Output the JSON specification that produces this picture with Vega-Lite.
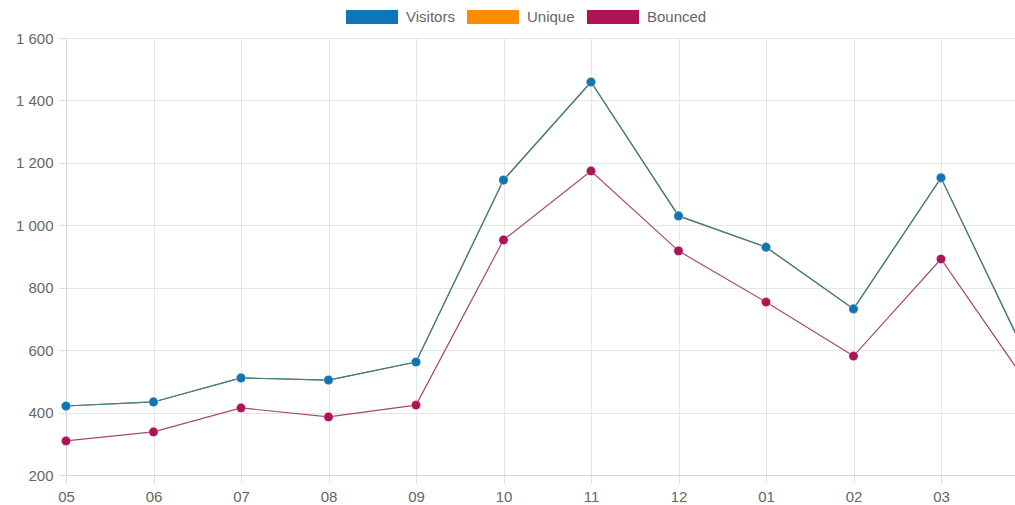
{
  "$schema": "https://vega.github.io/schema/vega-lite/v6.json",
  "autosize": {"type": "none"},
  "padding": {"left": 66, "top": 38, "right": 0, "bottom": 30},
  "width": 949,
  "height": 437,
  "background": "white",
  "data": {"values": [
    {"m": "05", "series": "Visitors", "v": 421}, {"m": "06", "series": "Visitors", "v": 434}, {"m": "07", "series": "Visitors", "v": 511}, {"m": "08", "series": "Visitors", "v": 504}, {"m": "09", "series": "Visitors", "v": 562}, {"m": "10", "series": "Visitors", "v": 1145}, {"m": "11", "series": "Visitors", "v": 1459}, {"m": "12", "series": "Visitors", "v": 1030}, {"m": "01", "series": "Visitors", "v": 930}, {"m": "02", "series": "Visitors", "v": 732}, {"m": "03", "series": "Visitors", "v": 1152}, {"m": "04", "series": "Visitors", "v": 568},
    {"m": "05", "series": "Unique", "v": 421}, {"m": "06", "series": "Unique", "v": 434}, {"m": "07", "series": "Unique", "v": 511}, {"m": "08", "series": "Unique", "v": 504}, {"m": "09", "series": "Unique", "v": 562}, {"m": "10", "series": "Unique", "v": 1145}, {"m": "11", "series": "Unique", "v": 1459}, {"m": "12", "series": "Unique", "v": 1030}, {"m": "01", "series": "Unique", "v": 930}, {"m": "02", "series": "Unique", "v": 732}, {"m": "03", "series": "Unique", "v": 1152}, {"m": "04", "series": "Unique", "v": 568},
    {"m": "05", "series": "Bounced", "v": 309}, {"m": "06", "series": "Bounced", "v": 338}, {"m": "07", "series": "Bounced", "v": 415}, {"m": "08", "series": "Bounced", "v": 386}, {"m": "09", "series": "Bounced", "v": 424}, {"m": "10", "series": "Bounced", "v": 953}, {"m": "11", "series": "Bounced", "v": 1174}, {"m": "12", "series": "Bounced", "v": 918}, {"m": "01", "series": "Bounced", "v": 754}, {"m": "02", "series": "Bounced", "v": 581}, {"m": "03", "series": "Bounced", "v": 892}, {"m": "04", "series": "Bounced", "v": 487}
  ]},
  "encoding": {
    "x": {
      "field": "m", "type": "ordinal",
      "scale": {"type": "point", "domain": ["05","06","07","08","09","10","11","12","01","02","03","04"], "range": [0, 962.5], "padding": 0},
      "axis": {"title": null, "values": ["05","06","07","08","09","10","11","12","01","02","03"], "labelAngle": 0, "labelFont": "Liberation Sans", "labelFontSize": 15, "labelColor": "#666666", "labelPadding": 6, "tickSize": 8, "tickColor": "#e0e0e0", "grid": true, "gridColor": "#e6e6e6", "domainColor": "#d6d6d6", "labelFlush": false}
    },
    "y": {
      "field": "v", "type": "quantitative",
      "scale": {"domain": [200, 1600], "nice": false, "zero": false},
      "axis": {"title": null, "values": [200,400,600,800,1000,1200,1400,1600], "labelExpr": "replace(format(datum.value, ','), ',', ' ')", "labelFont": "Liberation Sans", "labelFontSize": 15, "labelColor": "#666666", "labelPadding": 5, "tickSize": 8, "tickColor": "#e0e0e0", "grid": true, "gridColor": "#e6e6e6", "domainColor": "#d6d6d6"}
    }
  },
  "layer": [
    {
      "mark": {"type": "line", "strokeWidth": 1.2, "clip": true},
      "encoding": {
        "color": {"field": "series", "type": "nominal", "scale": {"domain": ["Visitors","Unique","Bounced"], "range": ["#4e7f7b", "#4e7f7b", "#a34a6a"]}, "legend": null},
        "detail": {"field": "series"}
      }
    },
    {
      "mark": {"type": "point", "filled": true, "size": 85, "opacity": 1, "clip": false, "stroke": "#ffffff", "strokeWidth": 0.6, "strokeOpacity": 0.5},
      "encoding": {
        "color": {"field": "series", "type": "nominal", "scale": {"domain": ["Visitors","Unique","Bounced"], "range": ["#0f75b9", "#ff8c00", "#ad1457"]},
          "legend": {"title": null, "orient": "none", "legendX": 280, "legendY": -47, "direction": "horizontal", "symbolType": "M-1,-0.27H1V0.27H-1Z", "symbolSize": 2704, "symbolOpacity": 1, "symbolStrokeWidth": 0, "labelFont": "Liberation Sans", "labelFontSize": 15, "labelColor": "#666666", "columnPadding": 12, "labelOffset": 8}
        },
        "order": {"field": "series", "sort": "ascending"}
      }
    }
  ],
  "resolve": {"scale": {"color": "independent"}},
  "config": {"view": {"stroke": null}}
}
